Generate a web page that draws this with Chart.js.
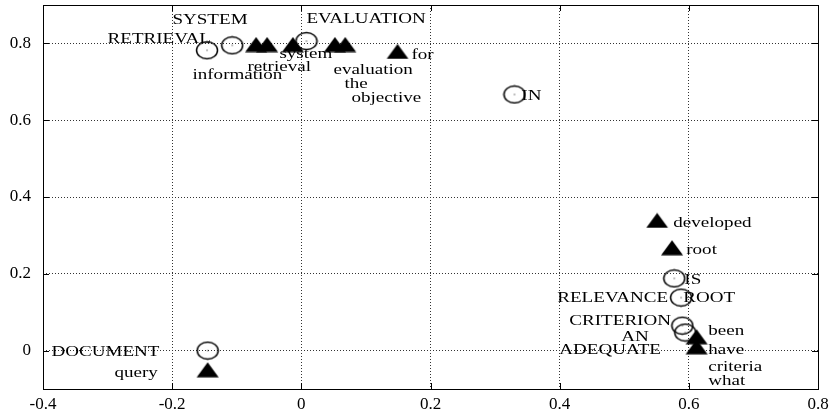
<!DOCTYPE html>
<html><head><meta charset="utf-8">
<script src="https://cdn.jsdelivr.net/npm/chart.js@4/dist/chart.umd.min.js"></script>
<style>html,body{margin:0;padding:0;background:#fff}#wrap{width:840px;height:414px}</style>
</head><body><div id="wrap"><canvas id="c" width="840" height="414"></canvas></div>
<script>
// Document-side terms (open circles)
const circleX = [-0.146, -0.107, 0.008, 0.330, 0.5775, 0.588, 0.590, 0.5945, -0.145];
const circleY = [0.782, 0.795, 0.806, 0.667, 0.188, 0.138, 0.065, 0.047, 0.000];
// Query-side terms (filled triangles)
const triX = [-0.070, -0.053, -0.013, 0.052, 0.068, 0.149, 0.551, 0.574, 0.612, 0.612, -0.145];
const triY = [0.797, 0.797, 0.797, 0.797, 0.797, 0.779, 0.339, 0.268, 0.036, 0.010, -0.050];
// Text labels (anchored at data coordinates, left-aligned)
const labelText = ["SYSTEM","RETRIEVAL","EVALUATION","information","retrieval","system","evaluation","the","objective","for","IN","developed","root","IS","RELEVANCE","ROOT","CRITERION","AN","ADEQUATE","been","have","criteria","what","DOCUMENT","query"];
const labelX = [-0.1996,-0.300,0.0079,-0.1686,-0.0834,-0.034,0.0497,0.0667,0.0776,0.1705,0.3407,0.576,0.596,0.593,0.3963,0.5914,0.415,0.4955,0.3995,0.630,0.630,0.630,0.630,-0.3868,-0.2893];
const labelY = [0.865,0.816,0.868,0.722,0.743,0.777,0.735,0.698,0.662,0.774,0.667,0.336,0.266,0.188,0.141,0.141,0.081,0.039,0.005,0.055,0.005,-0.039,-0.076,0.000,-0.055];
const xTicks = [-0.4, -0.2, 0, 0.2, 0.4, 0.6, 0.8];
const yTicks = [0, 0.2, 0.4, 0.6, 0.8];

function makeCircle(){
  const c = document.createElement('canvas'); c.width = 24; c.height = 20;
  const g = c.getContext('2d');
  g.strokeStyle = '#000'; g.lineWidth = 1.5;
  g.beginPath(); g.ellipse(12, 10, 10.5, 8.5, 0, 0, Math.PI*2); g.stroke();
  g.fillStyle = '#000'; g.fillRect(11.5, 9.5, 1, 1);
  return c;
}
function makeTri(){
  const c = document.createElement('canvas'); c.width = 24; c.height = 16;
  const g = c.getContext('2d');
  g.fillStyle = '#000';
  g.beginPath(); g.moveTo(1, 15.5); g.lineTo(23, 15.5); g.lineTo(12, 0.5); g.closePath(); g.fill();
  return c;
}
const circleImg = makeCircle();
const triImg = makeTri();

const SX = 1.27;
const FONT = '15px "Liberation Serif"';

const framePlugin = {
  id: 'frame',
  afterDraw(chart){
    const {ctx, chartArea: a, scales: {x, y}} = chart;
    ctx.save();
    ctx.strokeStyle = '#000'; ctx.lineWidth = 1;
    ctx.strokeRect(Math.round(a.left)+0.5, Math.round(a.top)+0.5, Math.round(a.right-a.left), Math.round(a.bottom-a.top));
    ctx.beginPath();
    xTicks.forEach(v => {
      const px = Math.round(x.getPixelForValue(v)) + 0.5;
      ctx.moveTo(px, a.bottom); ctx.lineTo(px, a.bottom - 6);
      ctx.moveTo(px, a.top); ctx.lineTo(px, a.top + 6);
    });
    yTicks.forEach(v => {
      const py = Math.round(y.getPixelForValue(v)) + 0.5;
      ctx.moveTo(a.left, py); ctx.lineTo(a.left + 6, py);
      ctx.moveTo(a.right, py); ctx.lineTo(a.right - 6, py);
    });
    ctx.stroke();
    ctx.restore();
  },
  afterDatasetsDraw(chart){
    const {ctx, scales: {x, y}} = chart;
    ctx.save();
    ctx.font = FONT; ctx.fillStyle = '#000';
    ctx.textAlign = 'left'; ctx.textBaseline = 'middle';
    labelText.forEach((t, i) => {
      ctx.save();
      ctx.translate(x.getPixelForValue(labelX[i]), y.getPixelForValue(labelY[i]) + 1.5);
      ctx.scale(SX, 1);
      ctx.fillText(t, 0, 0);
      ctx.restore();
    });
    ctx.restore();
  }
};

const fmt = v => String(Math.round(v * 10) / 10);

new Chart(document.getElementById('c'), {
  type: 'scatter',
  data: {
    datasets: [
      { label: 'document', data: circleX.map((v, i) => ({x: v, y: circleY[i]})), pointStyle: circleImg, pointRadius: 10 },
      { label: 'query', data: triX.map((v, i) => ({x: v, y: triY[i]})), pointStyle: triImg, pointRadius: 10 }
    ]
  },
  options: {
    responsive: false, animation: false, devicePixelRatio: 1,
    layout: { autoPadding: false, padding: { top: 5, right: 22, left: 0, bottom: 0 } },
    plugins: { legend: { display: false }, tooltip: { enabled: false } },
    scales: {
      x: {
        type: 'linear', min: -0.4, max: 0.8, position: 'bottom',
        afterBuildTicks: s => { s.ticks = xTicks.map(v => ({value: v})); },
        afterFit: s => { s.height = 25; s.paddingLeft = 0; s.paddingRight = 0; },
        grid: { drawTicks: false, color: '#333', lineWidth: 1 },
        border: { display: false, dash: [1, 2] },
        ticks: { font: { family: 'Liberation Serif', size: 17 }, color: '#000', padding: 5, maxRotation: 0, autoSkip: false, callback: fmt }
      },
      y: {
        type: 'linear', min: -0.1, max: 0.9,
        afterBuildTicks: s => { s.ticks = yTicks.map(v => ({value: v})); },
        afterFit: s => { s.width = 43; s.paddingTop = 0; s.paddingBottom = 0; },
        grid: { drawTicks: false, color: '#333', lineWidth: 1 },
        border: { display: false, dash: [1, 2] },
        ticks: { font: { family: 'Liberation Serif', size: 17 }, color: '#000', padding: 12, autoSkip: false, callback: fmt }
      }
    }
  },
  plugins: [framePlugin]
});
</script>
</body></html>
